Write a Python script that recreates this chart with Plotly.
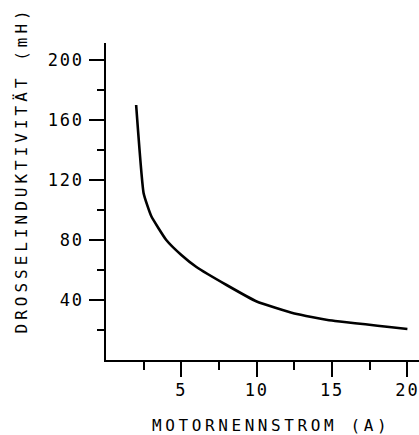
import plotly.graph_objects as go

# Data
strom_a = [2, 2.5, 3, 4, 5, 6, 8, 10, 12.5, 15, 20]
induktivitaet_mh = [170, 111, 96, 80, 70, 62, 50, 39, 31, 26.3, 20.7]

x_major = [5, 10, 15, 20]
x_minor = [2.5, 7.5, 12.5, 17.5]
y_major = [40, 80, 120, 160, 200]
y_minor = [20, 60, 100, 140, 180]

x_title = "MOTORNENNSTROM (A)"
y_title = "DROSSELINDUKTIVITÄT (mH)"

FONT = "DejaVu Sans Mono"


def spaced(text, ls):
    return f'<span style="letter-spacing:{ls}px">{text}</span>'


fig = go.Figure()
fig.add_trace(go.Scatter(
    x=strom_a, y=induktivitaet_mh, mode="lines",
    line=dict(color="black", width=2.6, shape="spline", smoothing=0.4),
    showlegend=False, hoverinfo="skip",
))

W, H = 419, 435
L, R, T, B = 106, 0, 43, 75
plot_w = W - L - R
plot_h = H - T - B
x_px_per_unit = 15.07
y_px_per_unit = 1.5

fig.update_layout(
    width=W, height=H,
    margin=dict(l=L, r=R, t=T, b=B, pad=0, autoexpand=False),
    paper_bgcolor="white", plot_bgcolor="white",
    font=dict(family=FONT, color="black", size=17),
)

fig.update_xaxes(
    range=[0, plot_w / x_px_per_unit],
    showgrid=False, zeroline=False,
    showline=True, linecolor="black", linewidth=1.6,
    tickmode="array", tickvals=x_major,
    ticktext=[spaced(str(v), 1.8) for v in x_major],
    ticks="outside", ticklen=15, tickwidth=1.6, tickcolor="black",
    tickfont=dict(family=FONT, size=17, color="black"),
    ticklabelstandoff=-1, ticklabeloverflow="allow",
    minor=dict(tickmode="array", tickvals=x_minor, ticks="outside",
               ticklen=8, tickwidth=1.6, tickcolor="black", showgrid=False),
    automargin=False,
)
fig.update_yaxes(
    range=[0, plot_h / y_px_per_unit],
    showgrid=False, zeroline=False,
    showline=True, linecolor="black", linewidth=1.6,
    tickmode="array", tickvals=y_major,
    ticktext=[spaced(str(v), 1.8) for v in y_major],
    ticks="outside", ticklen=15, tickwidth=1.6, tickcolor="black",
    tickfont=dict(family=FONT, size=17, color="black"),
    ticklabelstandoff=2, ticklabeloverflow="allow",
    minor=dict(tickmode="array", tickvals=y_minor, ticks="outside",
               ticklen=7, tickwidth=1.6, tickcolor="black", showgrid=False),
    automargin=False,
)

fig.add_annotation(
    text=spaced(x_title, 3.6), showarrow=False,
    xref="paper", yref="paper",
    x=(271 - L) / plot_w, y=(T + plot_h - 425.5) / plot_h,
    xanchor="center", yanchor="middle",
    font=dict(family=FONT, size=16, color="black"),
)
fig.add_annotation(
    text=spaced(y_title, 4.0), showarrow=False, textangle=-90,
    xref="paper", yref="paper",
    x=(20.5 - L) / plot_w, y=(T + plot_h - 170) / plot_h,
    xanchor="center", yanchor="middle",
    font=dict(family=FONT, size=16, color="black"),
)

fig.write_html(
    "out.html",
    config={"displayModeBar": False},
    post_script="document.body.style.margin='0';"
                "document.documentElement.style.overflow='hidden';",
)
